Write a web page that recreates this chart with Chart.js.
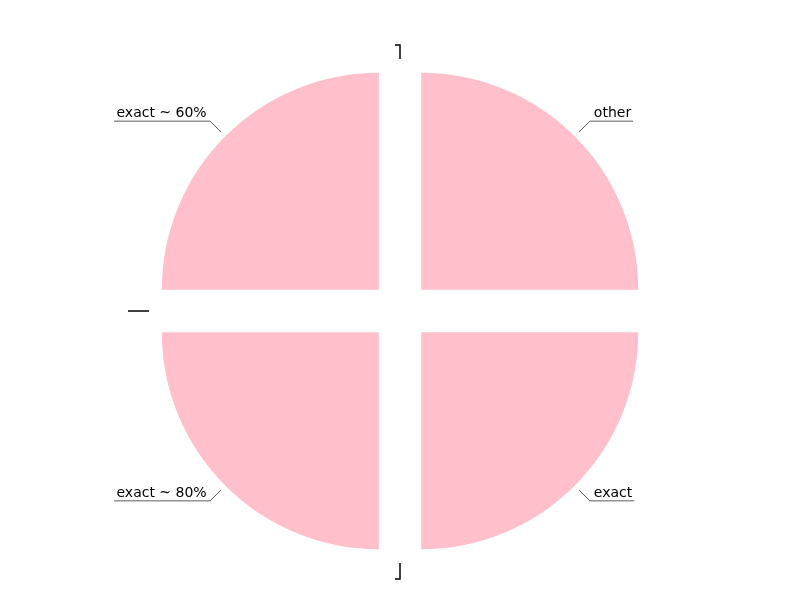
<!DOCTYPE html>
<html>
<head>
<meta charset="utf-8">
<script src="https://cdn.jsdelivr.net/npm/chart.js@4/dist/chart.umd.min.js"></script>
<style>
  html, body { margin: 0; padding: 0; background: #fff; }
  #wrap { width: 800px; height: 600px; }
</style>
</head>
<body>
<div id="wrap"><canvas id="pieChart"></canvas></div>
<script>
// slices, clockwise from 12 o'clock
const labels = ['other', 'exact', 'exact ~ 80%', 'exact ~ 60%'];
const values = [25, 25, 25, 25];
const sliceColor = '#FFC0CB';

// chart.js moves an arc by offset / 4
const sliceOffset = 120;

// leader lines + labels outside each slice
const labelPlugin = {
  id: 'sliceLabels',
  afterDatasetsDraw(chart) {
    const ctx = chart.ctx;
    const arcs = chart.getDatasetMeta(0).data;
    ctx.save();
    ctx.font = '14px "DejaVu Sans"';
    ctx.textBaseline = 'alphabetic';
    arcs.forEach((arc, i) => {
      const { x, y, startAngle, endAngle, outerRadius } = arc.getProps(['x', 'y', 'startAngle', 'endAngle', 'outerRadius'], true);
      const mid = (startAngle + endAngle) / 2;
      const off = sliceOffset / 4;
      const cx = x + Math.cos(mid) * off;
      const cy = y + Math.sin(mid) * off;
      const p1 = { x: cx + Math.cos(mid) * (outerRadius + 6), y: cy + Math.sin(mid) * (outerRadius + 6) };
      const p2 = { x: cx + Math.cos(mid) * (outerRadius + 21.5), y: cy + Math.sin(mid) * (outerRadius + 21.5) };
      const right = Math.cos(mid) >= 0;
      const w = ctx.measureText(labels[i]).width;
      const p3 = { x: right ? p2.x + w + 6 : p2.x - w - 6, y: p2.y };
      ctx.strokeStyle = '#333';
      ctx.lineWidth = 0.8;
      ctx.beginPath();
      ctx.moveTo(p1.x, p1.y);
      ctx.lineTo(p2.x, p2.y);
      ctx.lineTo(p3.x, p3.y);
      ctx.stroke();
      ctx.fillStyle = '#000';
      ctx.textAlign = right ? 'left' : 'right';
      ctx.fillText(labels[i], right ? p2.x + 4 : p2.x - 3.5, p2.y - 4);
    });

    // small tick marks around the pie
    const a = arcs[0];
    const r = a.outerRadius;
    ctx.strokeStyle = '#000';
    ctx.lineWidth = 1.5;
    ctx.beginPath();
    ctx.moveTo(a.x - 5, a.y - r - 49);
    ctx.lineTo(a.x, a.y - r - 49);
    ctx.lineTo(a.x, a.y - r - 35);
    ctx.moveTo(a.x, a.y + r + 35);
    ctx.lineTo(a.x, a.y + r + 51);
    ctx.lineTo(a.x - 5, a.y + r + 51);
    ctx.moveTo(a.x - r - 55, a.y);
    ctx.lineTo(a.x - r - 34, a.y);
    ctx.stroke();
    ctx.restore();
  }
};

new Chart(document.getElementById('pieChart'), {
  type: 'pie',
  data: {
    labels,
    datasets: [{
      data: values,
      backgroundColor: sliceColor,
      borderWidth: 0,
      offset: sliceOffset,
      radius: 217,
      clip: false
    }]
  },
  options: {
    responsive: true,
    maintainAspectRatio: false,
    animation: false,
    layout: { padding: { top: 22 } },
    plugins: {
      legend: { display: false },
      tooltip: { enabled: false }
    }
  },
  plugins: [labelPlugin]
});
</script>
</body>
</html>
